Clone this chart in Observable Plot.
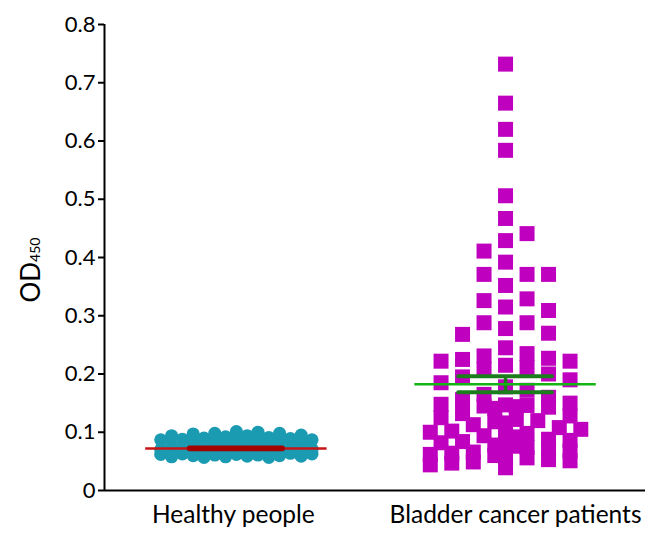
<!DOCTYPE html>
<html>
<head>
<meta charset="utf-8">
<script src="https://cdn.jsdelivr.net/npm/d3@7"></script>
<script src="https://cdn.jsdelivr.net/npm/@observablehq/plot@0.6"></script>
<style>
  html, body { margin: 0; padding: 0; background: #fff; }
  #chart svg { display: block; }
</style>
</head>
<body>
<div id="chart"></div>
<script>
// ---- data ----
const groups = ["Healthy people", "Bladder cancer patients"];

const healthy = [
  0.101, 0.100, 0.098, 0.098, 0.097, 0.095, 0.094, 0.094, 0.092, 0.091,
  0.090, 0.089, 0.088, 0.087, 0.087, 0.085, 0.084, 0.083, 0.082, 0.081,
  0.079, 0.078, 0.077, 0.076, 0.075, 0.074,
  0.072, 0.071, 0.071, 0.070, 0.069, 0.069, 0.068, 0.068, 0.067, 0.067,
  0.066, 0.066, 0.065, 0.065, 0.064, 0.064, 0.063, 0.063, 0.062, 0.062,
  0.061, 0.061, 0.060, 0.060, 0.059, 0.059, 0.058, 0.058, 0.057, 0.057
];

const bladder = [
  0.732, 0.665, 0.620, 0.584, 0.506, 0.467, 0.441, 0.429, 0.411, 0.392,
  0.371, 0.371, 0.371, 0.352, 0.329, 0.326, 0.315, 0.309, 0.288, 0.288,
  0.278, 0.270, 0.268, 0.245, 0.222, 0.222,
  0.235, 0.231, 0.227, 0.225, 0.215, 0.211, 0.208, 0.200, 0.195, 0.190,
  0.185, 0.178, 0.172, 0.165, 0.160, 0.156,
  0.150, 0.148, 0.147, 0.146, 0.145, 0.144, 0.143, 0.141,
  0.132, 0.128, 0.125, 0.122, 0.120, 0.118, 0.116, 0.113,
  0.108, 0.105, 0.102, 0.100, 0.098, 0.096, 0.094, 0.092,
  0.088, 0.086, 0.084, 0.082, 0.080, 0.078, 0.076, 0.074,
  0.070, 0.068, 0.066, 0.064, 0.062, 0.060, 0.058, 0.056,
  0.053, 0.051, 0.049, 0.047, 0.044, 0.039
];

const means = [0.0722, 0.1825];
const sems = [0.0015, 0.0137];
const yTicks = [0, 0.1, 0.2, 0.3, 0.4, 0.5, 0.6, 0.7, 0.8];

// ---- layout ----
const W = 660, H = 542, mL = 104, mR = 15, mT = 24, mB = 52;
const xDomain = [0.51, 2.52];
const yDomain = [0, 0.8];
const pxPerX = (W - mL - mR) / (xDomain[1] - xDomain[0]);
const pxPerY = (H - mT - mB) / (yDomain[1] - yDomain[0]);

// grid scatter: each point takes the nearest slot where it does not overlap;
// if every allowed slot is taken, the one with the most room is used.
function scatter(values, gi, stepPx, slots, fits) {
  const sorted = values.slice().sort((a, b) => b - a);
  const placed = [];
  const out = [];
  for (const v of sorted) {
    const py = v * pxPerY;
    let best = null, bestRoom = -1;
    for (const c of slots) {
      const px = c * stepPx;
      let room = Infinity;
      for (const p of placed) room = Math.min(room, fits(px - p.px, py - p.py));
      if (room >= 1) { best = c; break; }
      if (room > bestRoom + 0.02) { bestRoom = room; best = c; }
    }
    placed.push({px: best * stepPx, py});
    out.push({group: groups[gi], x: gi + 1 + best * stepPx / pxPerX, value: v});
  }
  return out;
}
function slotOrder(maxCol, inc) {
  const s = [0];
  for (let k = inc; k <= maxCol + 1e-9; k += inc) s.push(k, -k);
  return s;
}

const hData = scatter(healthy, 0, 10.8, slotOrder(7, 1), (dx, dy) => Math.hypot(dx, dy) / 12);
const bData = scatter(bladder, 1, 21.5, slotOrder(3.5, 0.5), (dx, dy) => Math.max(Math.abs(dx) / 21, Math.abs(dy) / 18));
const summary = groups.map((g, i) => ({x: i + 1, mean: means[i], sem: sems[i]}));
const semCaps = summary.flatMap(d => [{x: d.x, y: d.mean - d.sem}, {x: d.x, y: d.mean + d.sem}]);

const meanHalf = 0.337, capHalf = 0.174;

const plot = Plot.plot({
  width: W, height: H,
  marginLeft: mL, marginRight: mR, marginTop: mT, marginBottom: mB,
  style: {fontFamily: "Lato, sans-serif", fontSize: "22px", color: "#000", background: "#fff"},
  x: {domain: xDomain},
  y: {domain: yDomain},
  marks: [
    Plot.dot(hData, {x: "x", y: "value", r: 6.6, fill: "#1b9bb2"}),
    Plot.dot(bData, {x: "x", y: "value", symbol: "square", r: 8.46, fill: "#bf00bf"}),
    // healthy: mean line then SEM bar
    Plot.ruleY([summary[0]], {y: "mean", x1: d => d.x - meanHalf, x2: d => d.x + meanHalf, stroke: "#c81414", strokeWidth: 2.6}),
    Plot.ruleY([semCaps[0], semCaps[1]], {y: "y", x1: d => d.x - capHalf, x2: d => d.x + capHalf, stroke: "#a30000", strokeWidth: 4, strokeLinecap: "round"}),
    // bladder: SEM bar then mean line
    Plot.ruleY([semCaps[2], semCaps[3]], {y: "y", x1: d => d.x - capHalf, x2: d => d.x + capHalf, stroke: "#1c7d1c", strokeWidth: 4, strokeLinecap: "round"}),
    Plot.ruleX([summary[1]], {x: "x", y1: d => d.mean - d.sem, y2: d => d.mean + d.sem, stroke: "#1c7d1c", strokeWidth: 3.5}),
    Plot.ruleY([summary[1]], {y: "mean", x1: d => d.x - meanHalf, x2: d => d.x + meanHalf, stroke: "#14b414", strokeWidth: 2.6}),
    // axes
    Plot.ruleY([0], {stroke: "#000", strokeWidth: 2}),
    Plot.ruleX([xDomain[0]], {stroke: "#000", strokeWidth: 2}),
    Plot.axisY({ticks: yTicks, tickSize: 6, tickPadding: 3, strokeWidth: 2, label: null,
      tickFormat: d => d === 0 ? "0" : d3.format(".1f")(d)}),
    Plot.axisX({ticks: [1], tickSize: 0, tickPadding: 15, label: null, fontSize: 24.5, dx: -3,
      tickFormat: d => groups[d - 1]}),
    Plot.axisX({ticks: [2], tickSize: 0, tickPadding: 15, label: null, fontSize: 24.5, dx: 10,
      tickFormat: d => groups[d - 1]})
  ]
});

// y-axis title with subscript
const svg = d3.select(plot);
const t = svg.append("text")
  .attr("transform", "translate(40,270) rotate(-90)")
  .attr("text-anchor", "middle")
  .attr("font-family", "Lato, sans-serif")
  .attr("fill", "#000");
t.append("tspan").attr("font-size", 26).text("OD");
t.append("tspan").attr("font-size", 14).text("450");

document.getElementById("chart").appendChild(plot);
</script>
</body>
</html>
